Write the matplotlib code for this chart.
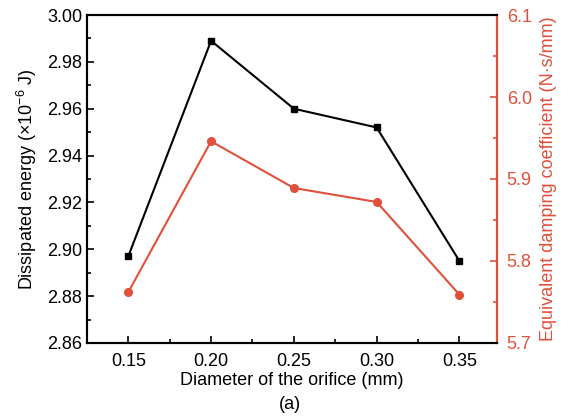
import numpy as np
import matplotlib.pyplot as plt
from matplotlib.ticker import MultipleLocator

plt.rcParams['font.family'] = ['Liberation Sans', 'DejaVu Sans']
plt.rcParams['mathtext.fontset'] = 'custom'
plt.rcParams['mathtext.rm'] = 'Liberation Sans'
plt.rcParams['mathtext.it'] = 'Liberation Sans'

# data
diameter = [0.15, 0.20, 0.25, 0.30, 0.35]
energy = [2.897, 2.989, 2.960, 2.952, 2.895]      # x1e-6 J
damping = [5.762, 5.946, 5.889, 5.872, 5.759]     # N*s/mm

red = '#E0503C'
fs = 13

fig = plt.figure(figsize=(5.68, 4.17), dpi=100)
ax = fig.add_axes([0.153, 0.1775, 0.722, 0.7865])
ax2 = ax.twinx()

ax.plot(diameter, energy, color='black', marker='s', markersize=5, linewidth=1.5)
ax2.plot(diameter, damping, color=red, marker='o', markersize=5.5, linewidth=1.5)

ax.set_xlim(0.125, 0.3727)
ax.set_ylim(2.86, 3.00)
ax2.set_ylim(5.7, 6.1)

ax.set_xticks(diameter)
ax.xaxis.set_minor_locator(MultipleLocator(0.025))
ax.yaxis.set_major_locator(MultipleLocator(0.02))
ax.yaxis.set_minor_locator(MultipleLocator(0.01))
ax2.yaxis.set_major_locator(MultipleLocator(0.1))
ax2.yaxis.set_minor_locator(MultipleLocator(0.05))
ax.yaxis.set_major_formatter(plt.FormatStrFormatter('%.2f'))
ax.xaxis.set_major_formatter(plt.FormatStrFormatter('%.2f'))
ax2.yaxis.set_major_formatter(plt.FormatStrFormatter('%.1f'))

ax.tick_params(which='both', direction='in', labelsize=fs, width=1.2)
ax.tick_params(which='major', length=5)
ax.tick_params(which='minor', length=3)
ax.tick_params(axis='x', pad=7, top=False)
ax.tick_params(axis='y', right=False)
ax2.tick_params(which='both', direction='in', colors=red, labelsize=fs, width=1.2, pad=7)
ax2.tick_params(which='major', length=5)
ax2.tick_params(which='minor', length=3)

for s in ax.spines.values():
    s.set_linewidth(1.5)
for s in ax2.spines.values():
    s.set_linewidth(1.5)
ax2.spines['right'].set_color(red)

ax.set_xlabel('Diameter of the orifice (mm)', fontsize=fs, labelpad=2)
ax.set_ylabel('Dissipated energy (×10$^{-6}$ J)', fontsize=fs, labelpad=6)
ax2.set_ylabel('Equivalent damping coefficient (N·s/mm)', fontsize=fs, color=red, labelpad=6)
fig.text(0.51, 0.03, '(a)', fontsize=fs, ha='center', va='center')

fig.savefig('out.png', dpi=100)
